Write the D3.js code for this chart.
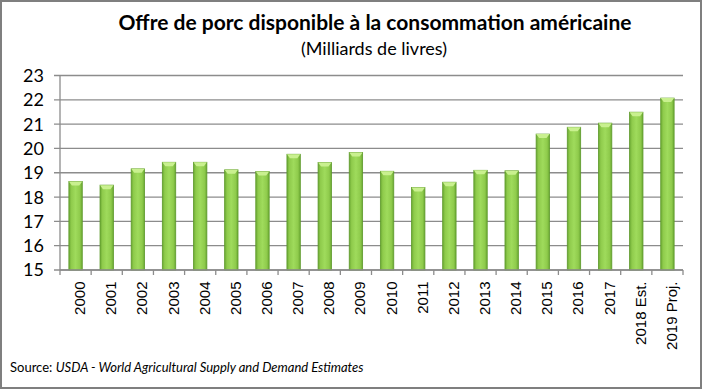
<!DOCTYPE html>
<html>
<head>
<meta charset="utf-8">
<script src="https://cdn.jsdelivr.net/npm/d3@7"></script>
<style>
  body { margin: 0; background: #fff; }
  svg { display: block; }
  .grid line { stroke: #8c8c8c; stroke-width: 1.3; }
  .axis path, .axis line { stroke: #8c8c8c; stroke-width: 1.3; }
</style>
</head>
<body>
<div id="chart"></div>
<script>
const categories = ["2000","2001","2002","2003","2004","2005","2006","2007","2008","2009",
  "2010","2011","2012","2013","2014","2015","2016","2017","2018 Est.","2019 Proj."];
const supply = [18.64, 18.49, 19.16, 19.43, 19.43, 19.12, 19.05, 19.76, 19.42, 19.83,
  19.06, 18.39, 18.61, 19.10, 19.08, 20.59, 20.87, 21.04, 21.49, 22.07];
const yTicks = [15, 16, 17, 18, 19, 20, 21, 22, 23];

const W = 702, H = 389;
const margin = {top: 75.5, right: 19, bottom: 119, left: 60};
const width = W - margin.left - margin.right,
    height = H - margin.top - margin.bottom;

const svg = d3.select("#chart").append("svg")
    .attr("width", W)
    .attr("height", H);

// frame
svg.append("rect")
    .attr("x", 1).attr("y", 1)
    .attr("width", W - 2).attr("height", H - 2)
    .attr("fill", "#fff")
    .attr("stroke", "#7f7f7f")
    .attr("stroke-width", 2);

const defs = svg.append("defs");
const grad = defs.append("linearGradient")
    .attr("id", "barGrad")
    .attr("x1", "0%").attr("x2", "100%").attr("y1", "0%").attr("y2", "0%");
[["0%", "#6aa832"], ["18%", "#8fcb4c"], ["50%", "#9fdb5c"], ["82%", "#8fcb4c"], ["100%", "#6aa832"]]
    .forEach(s => grad.append("stop").attr("offset", s[0]).attr("stop-color", s[1]));

const x = d3.scaleBand()
    .domain(categories)
    .range([0, width])
    .paddingInner(0.57)
    .paddingOuter(0.285);

const xTicks = d3.scaleBand().domain(categories).range([0, width]);

const y = d3.scaleLinear()
    .domain([15, 23])
    .range([height, 0]);

const g = svg.append("g")
    .attr("transform", "translate(" + margin.left + "," + margin.top + ")");

// gridlines
g.append("g")
    .attr("class", "grid")
    .selectAll("line")
    .data(yTicks)
    .enter().append("line")
    .attr("x1", -6)
    .attr("x2", width)
    .attr("y1", d => y(d))
    .attr("y2", d => y(d));

// y axis labels
g.append("g")
    .selectAll("text")
    .data(yTicks)
    .enter().append("text")
    .attr("x", -16)
    .attr("y", d => y(d))
    .attr("dy", "0.36em")
    .attr("text-anchor", "end")
    .attr("font-family", "Lato, 'Open Sans', sans-serif")
    .attr("font-size", 18)
    .attr("fill", "#000")
    .text(d => d);

// bars
const bars = g.append("g")
    .selectAll("g")
    .data(supply)
    .enter().append("g");

bars.append("rect")
    .attr("x", (d, i) => x(categories[i]))
    .attr("y", d => y(d))
    .attr("width", x.bandwidth())
    .attr("height", d => height - y(d))
    .attr("fill", "url(#barGrad)")
    .attr("stroke", "#5e9a2b")
    .attr("stroke-width", 0.8);

// bevel cap on top of each bar
bars.append("path")
    .attr("d", (d, i) => {
        const x0 = x(categories[i]), bw = x.bandwidth(), y0 = y(d);
        return "M" + x0 + "," + y0 + "L" + (x0 + bw) + "," + y0 +
            "L" + (x0 + bw - 3) + "," + (y0 + 4) + "L" + (x0 + 3) + "," + (y0 + 4) + "Z";
    })
    .attr("fill", "#c9f08f");

// x axis line + ticks
const ax = g.append("g").attr("class", "axis");
ax.append("line")
    .attr("x1", 0).attr("x2", width)
    .attr("y1", height).attr("y2", height);
ax.append("line")
    .attr("x1", 0).attr("x2", 0)
    .attr("y1", 0).attr("y2", height);
ax.selectAll(".xt")
    .data(categories.concat(["end"]))
    .enter().append("line")
    .attr("class", "xt")
    .attr("x1", (d, i) => i * xTicks.step())
    .attr("x2", (d, i) => i * xTicks.step())
    .attr("y1", height)
    .attr("y2", height + 5);

// x labels
g.append("g")
    .selectAll("text")
    .data(categories)
    .enter().append("text")
    .attr("transform", d => "translate(" + (x(d) + x.bandwidth() / 2 + 9.5) + "," + (height + 11.5) + ") rotate(-90)")
    .attr("text-anchor", "end")
    .attr("font-family", "'Liberation Sans', Arial, sans-serif")
    .attr("font-size", 15)
    .attr("fill", "#000")
    .text(d => d);

// titles
svg.append("text")
    .attr("x", 375)
    .attr("y", 30)
    .attr("text-anchor", "middle")
    .attr("font-family", "Lato, 'Open Sans', sans-serif")
    .attr("font-weight", "bold")
    .attr("font-size", 21)
    .attr("fill", "#000")
    .text("Offre de porc disponible à la consommation américaine");

svg.append("text")
    .attr("x", 374)
    .attr("y", 55)
    .attr("text-anchor", "middle")
    .attr("font-family", "Lato, 'Open Sans', sans-serif")
    .attr("font-size", 18)
    .attr("fill", "#000")
    .text("(Milliards de livres)");

const src = svg.append("text")
    .attr("x", 10)
    .attr("y", 372)
    .attr("font-family", "Lato, 'Open Sans', sans-serif")
    .attr("font-size", 13)
    .attr("fill", "#000");
src.append("tspan").text("Source: ");
src.append("tspan").attr("font-style", "italic").text("USDA - World Agricultural Supply and Demand Estimates");
</script>
</body>
</html>
